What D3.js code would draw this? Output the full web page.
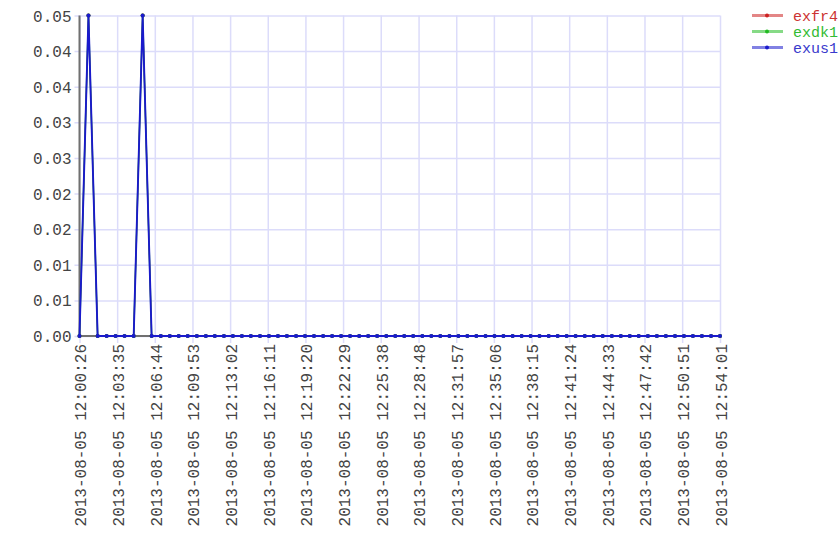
<!DOCTYPE html>
<html>
<head>
<meta charset="utf-8">
<script src="https://cdn.jsdelivr.net/npm/d3@7"></script>
<style>
  body { margin: 0; background: #fff; }
  text { font-family: "Liberation Mono", "Courier New", monospace; }
</style>
</head>
<body>
<svg id="chart" width="840" height="560"></svg>
<script>
const day = "2013-08-05"
const times = [
  "12:00:26", "12:01:11", "12:01:57", "12:02:42", "12:03:27", "12:04:12", "12:04:58", "12:05:43",
  "12:06:28", "12:07:14", "12:07:59", "12:08:44", "12:09:29", "12:10:15", "12:11:00", "12:11:45",
  "12:12:31", "12:13:16", "12:14:01", "12:14:46", "12:15:32", "12:16:17", "12:17:02", "12:17:47",
  "12:18:33", "12:19:18", "12:20:03", "12:20:49", "12:21:34", "12:22:19", "12:23:04", "12:23:50",
  "12:24:35", "12:25:20", "12:26:06", "12:26:51", "12:27:36", "12:28:21", "12:29:07", "12:29:52",
  "12:30:37", "12:31:23", "12:32:08", "12:32:53", "12:33:38", "12:34:24", "12:35:09", "12:35:54",
  "12:36:40", "12:37:25", "12:38:10", "12:38:55", "12:39:41", "12:40:26", "12:41:11", "12:41:56",
  "12:42:42", "12:43:27", "12:44:12", "12:44:58", "12:45:43", "12:46:28", "12:47:13", "12:47:59",
  "12:48:44", "12:49:29", "12:50:15", "12:51:00", "12:51:45", "12:52:30", "12:53:16", "12:54:01"
]

const exfr4 = [0, 0.05, 0, 0, 0, 0, 0, 0.05, 0, 0, 0, 0, 0, 0, 0, 0, 0, 0, 0, 0, 0, 0, 0, 0,
  0, 0, 0, 0, 0, 0, 0, 0, 0, 0, 0, 0, 0, 0, 0, 0, 0, 0, 0, 0, 0, 0, 0, 0,
  0, 0, 0, 0, 0, 0, 0, 0, 0, 0, 0, 0, 0, 0, 0, 0, 0, 0, 0, 0, 0, 0, 0, 0]
const exdk1 = [0, 0.05, 0, 0, 0, 0, 0, 0.05, 0, 0, 0, 0, 0, 0, 0, 0, 0, 0, 0, 0, 0, 0, 0, 0,
  0, 0, 0, 0, 0, 0, 0, 0, 0, 0, 0, 0, 0, 0, 0, 0, 0, 0, 0, 0, 0, 0, 0, 0,
  0, 0, 0, 0, 0, 0, 0, 0, 0, 0, 0, 0, 0, 0, 0, 0, 0, 0, 0, 0, 0, 0, 0, 0]
const exus1 = [0, 0.05, 0, 0, 0, 0, 0, 0.05, 0, 0, 0, 0, 0, 0, 0, 0, 0, 0, 0, 0, 0, 0, 0, 0,
  0, 0, 0, 0, 0, 0, 0, 0, 0, 0, 0, 0, 0, 0, 0, 0, 0, 0, 0, 0, 0, 0, 0, 0,
  0, 0, 0, 0, 0, 0, 0, 0, 0, 0, 0, 0, 0, 0, 0, 0, 0, 0, 0, 0, 0, 0, 0, 0]

const seriesNames = ["exfr4", "exdk1", "exus1"]
const seriesValues = [exfr4, exdk1, exus1]
const seriesColors = ["#cc2222", "#22bb22", "#1a1acc"]
const textColors = ["#cc3333", "#33bb33", "#3a3acc"]

const xTickLabels = [
  "12:00:26", "12:03:35", "12:06:44", "12:09:53", "12:13:02", "12:16:11",
  "12:19:20", "12:22:29", "12:25:38", "12:28:48", "12:31:57", "12:35:06",
  "12:38:15", "12:41:24", "12:44:33", "12:47:42", "12:50:51", "12:54:01"
]
const yTicks = [0, 0.05 / 9, 0.1 / 9, 0.15 / 9, 0.2 / 9, 0.25 / 9, 0.3 / 9, 0.35 / 9, 0.4 / 9, 0.05]
const yTickLabels = ["0.00", "0.01", "0.01", "0.02", "0.02", "0.03", "0.03", "0.04", "0.04", "0.05"]

const pLeft = 79.5, pRight = 720, pTop = 15.5, pBottom = 336
const parse = d3.timeParse("%Y-%m-%d %H:%M:%S")
const dates = times.map(t => parse(day + " " + t))
const tickDates = xTickLabels.map(t => parse(day + " " + t))

const svg = d3.select("#chart")

const x = d3.scaleTime().domain(d3.extent(dates)).range([pLeft, pRight])
const y = d3.scaleLinear().domain([0, 0.05]).range([pBottom, pTop])

// grid + x axis
const xAxis = d3.axisBottom(x)
  .tickValues(tickDates)
  .tickSize(-(pBottom - pTop))
  .tickFormat((d, i) => day + " " + xTickLabels[i])

const gx = svg.append("g")
  .attr("transform", "translate(0," + pBottom + ")")
  .call(xAxis)
gx.select(".domain").remove()
gx.selectAll(".tick line")
  .attr("y1", 7)
  .attr("stroke", "#dcdcfa")
  .attr("stroke-width", 1.5)
gx.selectAll(".tick text")
  .attr("transform", "rotate(-90)")
  .attr("text-anchor", "end")
  .attr("x", -8)
  .attr("y", 0)
  .attr("dy", "0.4em")
  .attr("fill", "#444")
  .style("font-size", "16px")

const yAxis = d3.axisLeft(y)
  .tickValues(yTicks)
  .tickSize(-(pRight - pLeft))
  .tickFormat((d, i) => yTickLabels[i])

const gy = svg.append("g")
  .attr("transform", "translate(" + pLeft + ",0)")
  .call(yAxis)
gy.select(".domain").remove()
gy.selectAll(".tick line")
  .attr("x1", -5)
  .attr("stroke", "#dcdcfa")
  .attr("stroke-width", 1.5)
gy.selectAll(".tick text")
  .attr("x", -8)
  .attr("dy", "0.35em")
  .attr("fill", "#444")
  .style("font-size", "16px")

// axis lines
svg.append("line")
  .attr("x1", pLeft).attr("x2", pLeft)
  .attr("y1", pTop).attr("y2", pBottom)
  .attr("stroke", "#707070").attr("stroke-width", 2)
svg.append("line")
  .attr("x1", pLeft).attr("x2", pRight)
  .attr("y1", pBottom).attr("y2", pBottom)
  .attr("stroke", "#707070").attr("stroke-width", 2)

const line = d3.line()
  .x((d, i) => x(dates[i]))
  .y(d => y(d))

// later series are drawn on top, a touch wider so the ones below don't fringe
seriesValues.forEach((vals, s) => {
  svg.append("path")
    .datum(vals)
    .attr("d", line)
    .attr("fill", "none")
    .attr("stroke", seriesColors[s])
    .attr("stroke-width", 1.1 + s * 0.4)
  svg.append("g").selectAll("circle")
    .data(vals)
    .enter()
    .append("circle")
    .attr("cx", (d, i) => x(dates[i]))
    .attr("cy", d => y(d))
    .attr("r", 2)
    .attr("fill", seriesColors[s])
})

// legend
const legend = svg.append("g")
seriesNames.forEach((name, s) => {
  const ly = 15.5 + s * 16
  legend.append("line")
    .attr("x1", 752).attr("x2", 783)
    .attr("y1", ly).attr("y2", ly)
    .attr("stroke", seriesColors[s])
    .attr("stroke-opacity", 0.55)
    .attr("stroke-width", 3)
  legend.append("circle")
    .attr("cx", 767).attr("cy", ly).attr("r", 2)
    .attr("fill", seriesColors[s])
  legend.append("text")
    .attr("x", 793).attr("y", ly)
    .attr("dy", "0.35em")
    .attr("fill", textColors[s])
    .style("font-size", "15px")
    .text(name)
})
</script>
</body>
</html>
